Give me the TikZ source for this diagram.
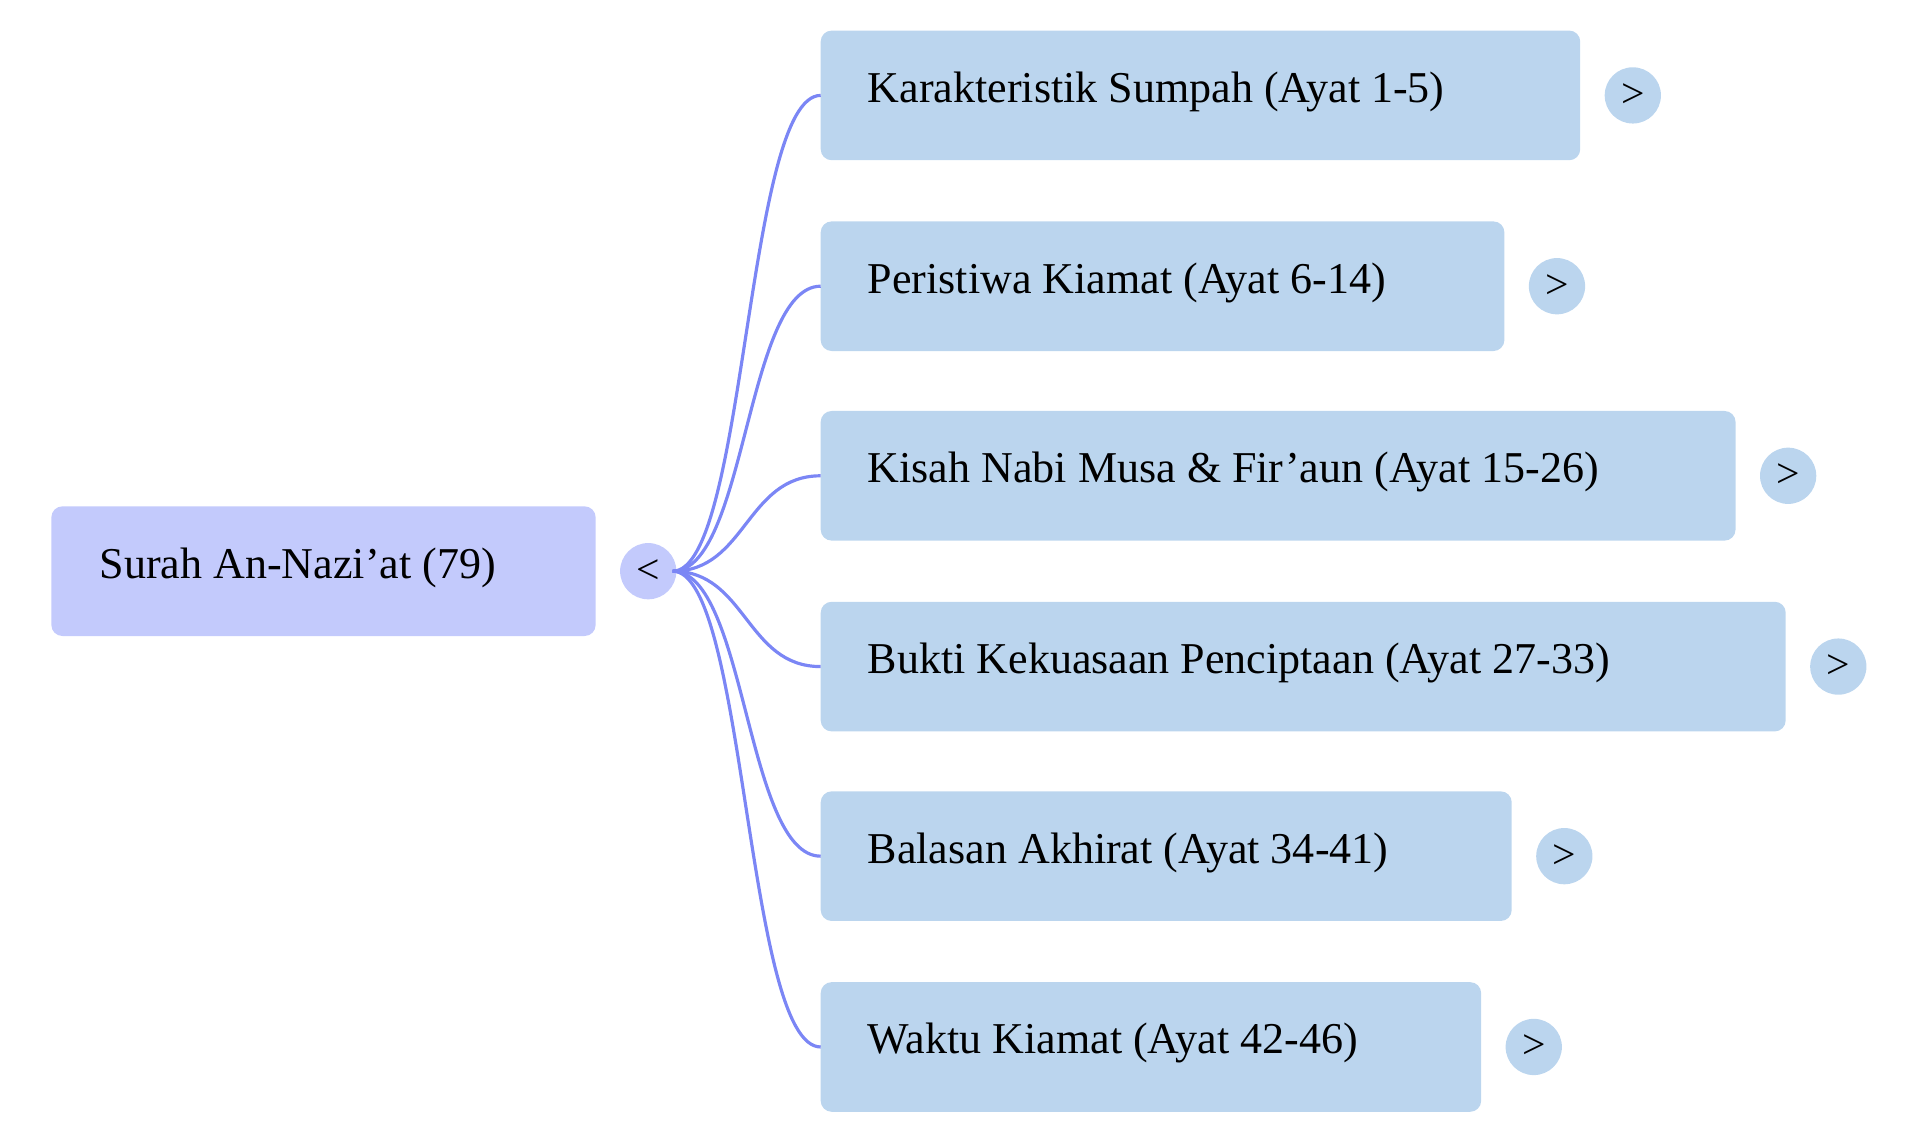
\documentclass[tikz,border=0pt]{standalone}
\usepackage{fontspec}
\setmainfont{Liberation Serif}
\begin{document}
\begin{tikzpicture}[x=1pt,y=-1pt,
 box/.style={fill=cb,rounded corners=9pt,draw=none},
 circ/.style={circle,fill=cb,minimum size=46pt,inner sep=0pt,font=\fontsize{34}{34}\selectfont},
 lbl/.style={anchor=west,font=\fontsize{36}{40}\selectfont},
 edge/.style={draw=ec,line width=2.6pt}]
\definecolor{cb}{HTML}{BBD5EE}
\definecolor{rc}{HTML}{C3CAFC}
\definecolor{ec}{HTML}{7B86F5}
\useasboundingbox (0,0) rectangle (1560,930);
\fill[rc,rounded corners=9pt] (42,414) rectangle (487,520);
\node[lbl] (root) at (78,464) {Surah An-Nazi'at (79)};
\node[circ,fill=rc] (tog) at (530,467) {<};
\coordinate (src) at (550,467);
\foreach \i/\y/\r/\t in {1/78/1292/Karakteristik Sumpah (Ayat 1-5),
 2/234/1230/Peristiwa Kiamat (Ayat 6-14),
 3/389/1419/Kisah Nabi Musa \& Fir'aun (Ayat 15-26),
 4/545/1460/Bukti Kekuasaan Penciptaan (Ayat 27-33),
 5/700/1236/Balasan Akhirat (Ayat 34-41),
 6/856/1211/Waktu Kiamat (Ayat 42-46)}{
 \fill[cb,rounded corners=9pt] (671,\y-53) rectangle (\r,\y+53);
 \coordinate (c\i) at (671,\y);
 \node[lbl] (n\i) at (706,\y-3) {\t};
 \node[circ] (e\i) at (\r+43,\y) {>};
 \draw[edge] (src) .. controls (610,467) and (610,\y) .. (c\i);
}
\end{tikzpicture}
\end{document}
